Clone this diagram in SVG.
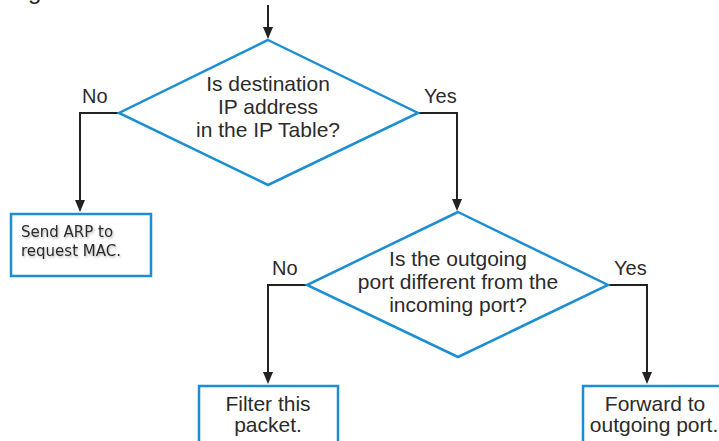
<svg xmlns="http://www.w3.org/2000/svg" width="719" height="441" viewBox="0 0 719 441">
<style>
.shape{fill:#fff;stroke:#1b8fd2;stroke-width:2.5}
.conn{fill:none;stroke:#222;stroke-width:2}
.head{fill:#222}
.t{font-family:"Liberation Sans",Arial,sans-serif;font-size:21px;fill:#2b2b2b;text-anchor:middle}
.lbl{font-family:"Liberation Sans",Arial,sans-serif;font-size:20px;fill:#2b2b2b}
.small{font-family:"DejaVu Sans",Verdana,sans-serif;font-size:15px;fill:#2b2b2b;filter:url(#sh)}
</style>
<defs>
<filter id="sh" x="-10%" y="-30%" width="130%" height="170%">
<feDropShadow dx="1" dy="1.5" stdDeviation="1" flood-color="#000" flood-opacity="0.3"/>
</filter>
</defs>
<text x="28" y="-1" font-family="Liberation Sans,Arial,sans-serif" font-size="24" fill="#222">g</text>
<g id="connectors">
<path class="conn" d="M268,5 V28"/>
<path class="head" d="M263,27 H273 L268,39 Z"/>
<path class="conn" d="M119,113 H80 V201"/>
<path class="head" d="M75,200 H85 L80,212 Z"/>
<path class="conn" d="M418,113 H457 V200"/>
<path class="head" d="M452,199 H462 L457,211 Z"/>
<path class="conn" d="M307,285 H268 V373"/>
<path class="head" d="M263,372 H273 L268,384 Z"/>
<path class="conn" d="M608,285 H647 V373"/>
<path class="head" d="M642,372 H652 L647,384 Z"/>
<text class="lbl" x="82" y="103">No</text>
<text class="lbl" x="424" y="103">Yes</text>
<text class="lbl" x="272" y="275">No</text>
<text class="lbl" x="614" y="275">Yes</text>
</g>
<g id="d1">
<polygon class="shape" points="268,40 418,113 268,185 119,113"/>
<text class="t" x="268" y="91">Is destination</text>
<text class="t" x="268" y="114">IP address</text>
<text class="t" x="268" y="137">in the IP Table?</text>
</g>
<g id="arp">
<rect class="shape" x="11" y="214" width="140" height="62"/>
<text class="small" x="21" y="237">Send ARP to</text>
<text class="small" x="21" y="256">request MAC.</text>
</g>
<g id="d2">
<polygon class="shape" points="458,212 608,285 458,357 307,285"/>
<text class="t" x="458" y="266">Is the outgoing</text>
<text class="t" x="458" y="289">port different from the</text>
<text class="t" x="458" y="312">incoming port?</text>
</g>
<g id="filter">
<rect class="shape" x="199" y="386" width="139" height="70"/>
<text class="t" x="268" y="411">Filter this</text>
<text class="t" x="268" y="432">packet.</text>
</g>
<g id="forward">
<rect class="shape" x="583" y="386" width="150" height="70"/>
<text class="t" x="655" y="411">Forward to</text>
<text class="t" x="654" y="432">outgoing port.</text>
</g>
</svg>
